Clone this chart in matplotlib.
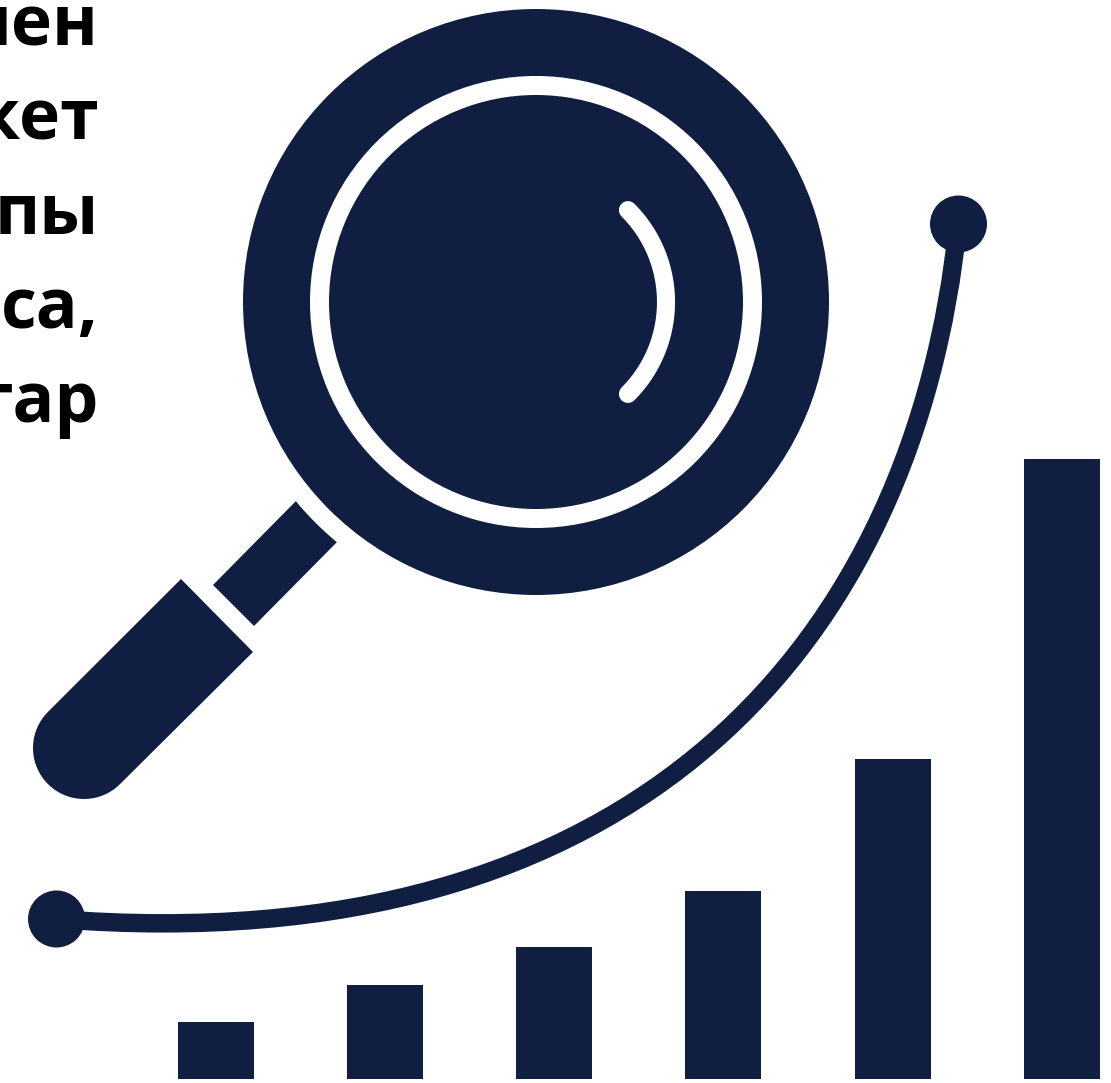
import matplotlib
matplotlib.use("Agg")
import matplotlib.pyplot as plt
import numpy as np
from matplotlib.patches import Circle, Polygon, PathPatch
from matplotlib.path import Path

navy = "#101f41"

# bar chart part, heights in px up from the bottom line at y=1079
bar_left = [178, 347, 516, 685, 855, 1024]
bar_height = [57, 94, 132, 188, 320, 620]
bar_width = 76

# text lines cropped at the left edge
text_lines = ["лен", "кет", "пы", "са,", "тар"]
text_right = [99, 99, 99, 99, 99]
text_y = [46, 140, 234, 328, 422]

# the growth curve, one cubic bezier
curve_pts = [(56, 919), (640, 965), (915, 640), (958, 224)]

fig = plt.figure(figsize=(11.11, 10.83), dpi=100)
ax = fig.add_axes([0, 0, 1, 1])
ax.set_xlim(0, 1111)
ax.set_ylim(1083, 0)
ax.axis("off")

ax.bar(bar_left, bar_height, width=bar_width, bottom=[1079 - h for h in bar_height],
       align="edge", color=navy)

for s, r, y in zip(text_lines, text_right, text_y):
    ax.text(r, y, s, ha="right", va="baseline", fontsize=50, fontweight="bold",
            family="Open Sans", color="black")

ax.add_patch(PathPatch(Path(curve_pts, [Path.MOVETO, Path.CURVE4, Path.CURVE4, Path.CURVE4]),
                       fc="none", ec=navy, lw=13.3))
ax.add_patch(Circle((56.5, 919), 28.5, fc=navy, lw=0))
ax.add_patch(Circle((958.5, 224), 28.5, fc=navy, lw=0))

# magnifier lens
cx, cy = 536, 302
ax.add_patch(Circle((cx, cy), 293, fc=navy, lw=0))
ax.add_patch(Circle((cx, cy), 226, fc="white", lw=0))
ax.add_patch(Circle((cx, cy), 207, fc=navy, lw=0))

# glare arc
t = np.radians(np.linspace(-45, 45, 60))
ax.plot(cx + 130 * np.cos(t), cy + 130 * np.sin(t), color="white", lw=13,
        solid_capstyle="round")

# handle neck, its top edge follows the lens
a0 = np.arctan2(542 - cy, 337 - cx)
a1 = np.arctan2(501 - cy, 296 - cx)
a = np.linspace(a0, a1, 30)
neck = [(213, 585), (254, 626)] + list(zip(cx + 312 * np.cos(a), cy + 312 * np.sin(a)))
ax.add_patch(Polygon(neck, fc=navy, lw=0))

# handle grip with a round end
a = np.radians(np.linspace(45, 225, 60))
grip = [(181, 579), (253, 652)] + list(zip(84 + 51 * np.cos(a), 748 + 51 * np.sin(a)))
ax.add_patch(Polygon(grip, fc=navy, lw=0))

fig.savefig("out.png", dpi=100)
